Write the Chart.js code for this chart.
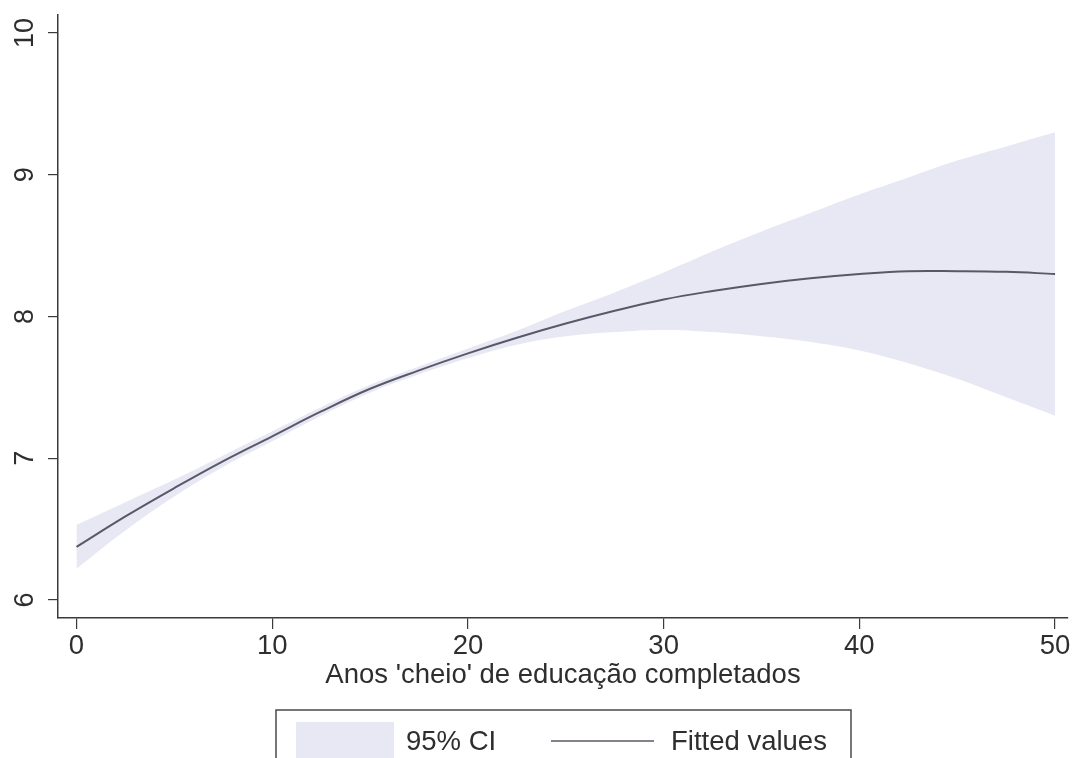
<!DOCTYPE html>
<html>
<head>
<meta charset="utf-8">
<script src="https://cdn.jsdelivr.net/npm/chart.js@4.4.1/dist/chart.umd.min.js"></script>
<style>
  html, body { margin: 0; padding: 0; background: #ffffff; }
  #wrap { width: 1072px; height: 758px; }
</style>
</head>
<body>
<div id="wrap"><canvas id="chart" width="1072" height="758"></canvas></div>
<script>
// Years of schooling (x) and the quadratic fit with its 95% confidence band
const years     = [0, 2.5, 5, 7.5, 10, 12.5, 15, 17.5, 20, 22.5, 25, 27.5, 30, 32.5, 35, 37.5, 40, 42.5, 45, 47.5, 50];
const fitted    = [6.375, 6.59, 6.79, 6.98, 7.155, 7.33, 7.49, 7.62, 7.74, 7.85, 7.95, 8.04, 8.12, 8.18, 8.23, 8.27, 8.30, 8.32, 8.32, 8.315, 8.30];
const ciUpper   = [6.53, 6.69, 6.85, 7.02, 7.19, 7.36, 7.518, 7.648, 7.775, 7.90, 8.04, 8.17, 8.31, 8.46, 8.60, 8.73, 8.86, 8.98, 9.10, 9.20, 9.30];
const ciLower   = [6.22, 6.49, 6.73, 6.94, 7.12, 7.30, 7.462, 7.592, 7.705, 7.80, 7.86, 7.89, 7.905, 7.89, 7.86, 7.82, 7.76, 7.67, 7.56, 7.43, 7.30];

const xTickValues = [0, 10, 20, 30, 40, 50];
const yTickValues = [6, 7, 8, 9, 10];
const xAxisTitle  = "Anos 'cheio' de educação completados";
const ciLabel     = '95% CI';
const fitLabel    = 'Fitted values';

const FONT = '"Liberation Sans", Arial, Helvetica, sans-serif';
const TEXT = '#2e2e2e';
const AXIS = '#3a3a3a';
const BAND = '#e8e8f4';
const LINE = '#585868';

const pts = arr => arr.map((v, i) => ({ x: years[i], y: v }));

// Rotated y tick labels and the boxed legend underneath the plot
const stataDecor = {
  id: 'stataDecor',
  afterDraw(chart) {
    const ctx = chart.ctx;
    const ys = chart.scales.y;
    ctx.save();
    ctx.fillStyle = TEXT;
    ctx.font = '27px ' + FONT;
    ctx.textAlign = 'center';
    ctx.textBaseline = 'alphabetic';
    yTickValues.forEach(v => {
      const py = ys.getPixelForValue(v);
      ctx.save();
      ctx.translate(33, py);
      ctx.rotate(-Math.PI / 2);
      ctx.fillText(String(v), 0, 0);
      ctx.restore();
    });

    // legend box
    const ds = chart.data.datasets;
    const band = ds[0], fit = ds[2];
    ctx.strokeStyle = '#4a4a4a';
    ctx.lineWidth = 1.5;
    ctx.strokeRect(276, 710, 575, 70);
    ctx.fillStyle = band.backgroundColor;
    ctx.fillRect(296, 722, 98, 50);
    ctx.fillStyle = TEXT;
    ctx.textAlign = 'left';
    ctx.font = '27.5px ' + FONT;
    ctx.fillText(band.label, 406, 750);
    ctx.strokeStyle = fit.borderColor;
    ctx.lineWidth = 1.5;
    ctx.beginPath();
    ctx.moveTo(551, 741);
    ctx.lineTo(654, 741);
    ctx.stroke();
    ctx.fillText(fit.label, 671, 750);
    ctx.restore();
  }
};

new Chart(document.getElementById('chart'), {
  type: 'line',
  data: {
    datasets: [
      {
        label: ciLabel,
        data: pts(ciUpper),
        backgroundColor: BAND,
        borderWidth: 0,
        pointRadius: 0,
        fill: '+1',
        tension: 0.4,
        order: 1
      },
      {
        label: ciLabel + ' (lower)',
        data: pts(ciLower),
        backgroundColor: BAND,
        borderWidth: 0,
        pointRadius: 0,
        fill: false,
        tension: 0.4,
        order: 1
      },
      {
        label: fitLabel,
        data: pts(fitted),
        borderColor: LINE,
        borderWidth: 2,
        pointRadius: 0,
        fill: false,
        tension: 0.4,
        order: 0
      }
    ]
  },
  options: {
    responsive: false,
    animation: false,
    events: [],
    layout: { padding: { top: 15, right: 4, left: 0, bottom: 0 } },
    plugins: {
      legend: { display: false },
      tooltip: { enabled: false }
    },
    scales: {
      x: {
        type: 'linear',
        position: 'bottom',
        min: -0.945,
        max: 50.66,
        afterBuildTicks: s => { s.ticks = xTickValues.map(v => ({ value: v })); },
        afterFit: s => { s.height = 140; },
        grid: { display: true, drawOnChartArea: false, drawTicks: true, tickLength: 11, color: AXIS, lineWidth: 1.2 },
        border: { display: true, color: AXIS, width: 1.5 },
        ticks: {
          color: TEXT,
          font: { family: FONT, size: 27.5 },
          padding: 1,
          maxRotation: 0,
          minRotation: 0,
          callback: v => String(v)
        },
        title: {
          display: true,
          text: xAxisTitle,
          color: TEXT,
          font: { family: FONT, size: 27.5 },
          padding: { top: 0, bottom: 66 }
        }
      },
      y: {
        type: 'linear',
        position: 'left',
        min: 5.873,
        max: 10.127,
        afterBuildTicks: s => { s.ticks = yTickValues.map(v => ({ value: v })); },
        afterFit: s => { s.width = 58; },
        grid: { display: true, drawOnChartArea: false, drawTicks: true, tickLength: 10, color: AXIS, lineWidth: 1.2 },
        border: { display: true, color: AXIS, width: 1.5 },
        ticks: { display: false }
      }
    }
  },
  plugins: [stataDecor]
});
</script>
</body>
</html>
